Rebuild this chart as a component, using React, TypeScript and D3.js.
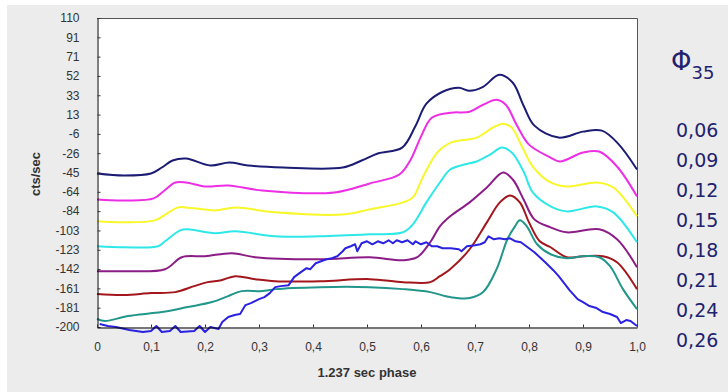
import { useEffect, useRef } from "react";
import * as d3 from "d3";

type Pt = [number, number];

// [phase, cts/sec]
const phi006: Pt[] = [
  [0, -46], [0.05, -48], [0.1, -46], [0.12, -40], [0.14, -33], [0.165, -31],
  [0.21, -38], [0.245, -35], [0.28, -38], [0.345, -40], [0.455, -40], [0.49, -33],
  [0.52, -26], [0.565, -20], [0.59, 2], [0.61, 24], [0.64, 36], [0.67, 40],
  [0.69, 37], [0.715, 41], [0.745, 53], [0.77, 45], [0.79, 22], [0.81, 2],
  [0.855, -10], [0.9, -4], [0.935, -3], [0.965, -16], [1.0, -42],
];
const phi009: Pt[] = [
  [0, -72], [0.05, -73], [0.105, -71], [0.125, -63], [0.145, -55], [0.165, -55],
  [0.2, -59], [0.243, -58], [0.306, -63], [0.44, -65], [0.505, -56], [0.56, -47],
  [0.58, -33], [0.6, -9], [0.62, 10], [0.655, 15], [0.69, 16], [0.715, 23],
  [0.74, 28], [0.757, 23], [0.777, 3], [0.8, -17], [0.84, -30], [0.857, -34],
  [0.9, -25], [0.93, -24], [0.963, -39], [1.0, -69],
];
const phi012: Pt[] = [
  [0, -94], [0.05, -95], [0.107, -93], [0.13, -86], [0.15, -80], [0.165, -80],
  [0.218, -83], [0.256, -80], [0.33, -85], [0.46, -87], [0.505, -82], [0.567, -75],
  [0.585, -70], [0.604, -49], [0.63, -25], [0.655, -15], [0.703, -10], [0.733, 0],
  [0.752, 4], [0.768, 0], [0.787, -19], [0.807, -39], [0.84, -55], [0.87, -59],
  [0.926, -55], [0.956, -60], [1.0, -89],
];
const phi015: Pt[] = [
  [0, -119], [0.05, -120], [0.113, -119], [0.126, -114], [0.154, -103], [0.168, -102],
  [0.218, -106], [0.256, -104], [0.33, -109], [0.413, -109], [0.505, -107], [0.567, -105],
  [0.585, -97], [0.61, -75], [0.635, -55], [0.654, -42], [0.68, -37], [0.703, -34],
  [0.728, -27], [0.75, -20], [0.768, -25], [0.79, -44], [0.807, -65], [0.84, -79],
  [0.87, -84], [0.926, -79], [0.956, -85], [1.0, -115],
];
const phi018: Pt[] = [
  [0, -144], [0.05, -144], [0.126, -142], [0.157, -130], [0.2, -129], [0.25, -126],
  [0.293, -130], [0.413, -132], [0.505, -130], [0.567, -133], [0.593, -130], [0.617, -115],
  [0.635, -99], [0.654, -89], [0.69, -75], [0.722, -60], [0.752, -45], [0.77, -52],
  [0.79, -72], [0.81, -92], [0.84, -100], [0.87, -105], [0.93, -102], [0.963, -112],
  [1.0, -140],
];
const phi021: Pt[] = [
  [0, -167], [0.05, -168], [0.1, -166], [0.145, -165], [0.18, -159], [0.205, -155],
  [0.23, -153], [0.256, -149], [0.293, -152], [0.33, -154], [0.413, -154], [0.505, -152],
  [0.567, -155], [0.617, -155], [0.635, -149], [0.654, -142], [0.69, -122], [0.722, -95],
  [0.746, -75], [0.765, -68], [0.783, -75], [0.8, -95], [0.82, -114], [0.84, -120],
  [0.87, -130], [0.9, -129], [0.937, -129], [0.963, -135], [1.0, -162],
];
const phi024: Pt[] = [
  [0, -192], [0.015, -194], [0.057, -189], [0.12, -185], [0.168, -180], [0.213, -175],
  [0.243, -169], [0.268, -164], [0.306, -164], [0.33, -162], [0.413, -160], [0.505, -160],
  [0.567, -162], [0.617, -165], [0.654, -170], [0.69, -171], [0.715, -165], [0.74, -142],
  [0.76, -112], [0.774, -99], [0.783, -93], [0.796, -99], [0.815, -117], [0.84, -127],
  [0.87, -131], [0.9, -129], [0.93, -130], [0.95, -139], [0.974, -162], [1.0, -182],
];
const phi026: Pt[] = [
  [0.005, -197], [0.02, -199], [0.035, -200], [0.06, -203], [0.085, -205], [0.1, -204],
  [0.11, -199], [0.12, -205], [0.135, -204], [0.145, -199], [0.155, -205], [0.18, -204],
  [0.19, -199], [0.2, -205], [0.21, -200], [0.225, -202], [0.232, -195], [0.243, -190],
  [0.255, -188], [0.265, -187], [0.275, -178], [0.285, -176], [0.3, -172], [0.31, -170],
  [0.32, -166], [0.33, -160], [0.34, -159], [0.355, -158], [0.365, -150], [0.375, -146],
  [0.388, -141], [0.395, -142], [0.405, -136], [0.415, -134], [0.425, -132], [0.435, -131],
  [0.445, -129], [0.455, -124], [0.46, -121], [0.47, -119], [0.478, -117], [0.482, -124],
  [0.49, -116], [0.5, -114], [0.51, -117], [0.52, -114], [0.53, -116], [0.54, -113],
  [0.548, -116], [0.555, -113], [0.565, -115], [0.575, -113], [0.585, -117], [0.59, -114],
  [0.6, -117], [0.61, -115], [0.62, -119], [0.63, -119], [0.64, -121], [0.655, -121],
  [0.67, -122], [0.675, -124], [0.685, -119], [0.7, -118], [0.71, -117], [0.718, -115],
  [0.725, -109], [0.735, -112], [0.745, -111], [0.755, -112], [0.765, -111], [0.775, -114],
  [0.785, -115], [0.795, -119], [0.81, -125], [0.82, -130], [0.83, -135], [0.845, -143],
  [0.855, -149], [0.865, -156], [0.875, -163], [0.89, -172], [0.9, -175], [0.912, -179],
  [0.925, -181], [0.937, -185], [0.95, -187], [0.963, -190], [0.97, -196], [0.98, -193],
  [0.988, -194], [1.0, -199],
];

const series = [phi006, phi009, phi012, phi015, phi018, phi021, phi024, phi026];
const colors = ["#1c1c74", "#ee2ee6", "#f7f72a", "#2ee8e8", "#8c1c86", "#a3161c", "#22968a", "#2a22e0"];
const legendLabels = ["0,06", "0,09", "0,12", "0,15", "0,18", "0,21", "0,24", "0,26"];

const yTickLabels = ["110", "91", "71", "52", "33", "13", "-6", "-26", "-45", "-64", "-84", "-103", "-123", "-142", "-161", "-181", "-200"];
const xTicks = [0, 0.1, 0.2, 0.3, 0.4, 0.5, 0.6, 0.7, 0.8, 0.9, 1.0];

const W = 728;
const H = 392;
const left = 97;
const right = 637;
const top = 18;
const bottom = 327;

export default function App() {
  const svgRef = useRef<SVGSVGElement>(null);

  useEffect(() => {
    const svg = d3.select(svgRef.current);
    svg.selectAll("*").remove();

    svg.append("rect").attr("x", 7).attr("y", 5).attr("width", W - 7).attr("height", H - 5).attr("fill", "#ececec");

    const x = d3.scaleLinear().domain([0, 1]).range([left, right]);
    const y = d3.scaleLinear().domain([-200, 110]).range([bottom, top]);

    svg.append("rect").attr("x", left).attr("y", top).attr("width", right - left).attr("height", bottom - top).attr("fill", "#fff");
    // top and right frame
    svg.append("path").attr("d", `M${left},${top + 0.5}H${right + 0.5}V${bottom}`).attr("fill", "none").attr("stroke", "#555").attr("stroke-width", 1);

    const line = d3
      .line<Pt>()
      .x((d) => x(d[0]))
      .y((d) => y(d[1]));

    series.forEach((s, i) => {
      svg
        .append("path")
        .datum(s)
        .attr("fill", "none")
        .attr("stroke", colors[i])
        .attr("stroke-width", 2)
        .attr("stroke-linejoin", "round")
        .attr("d", line.curve(i === 7 ? d3.curveLinear : d3.curveCatmullRom.alpha(0.5))(s));
    });

    const yTickVals = yTickLabels.map((_, i) => 110 - (i * 310) / 16);
    const yAxis = d3
      .axisLeft(y)
      .tickValues(yTickVals)
      .tickFormat((_, i) => yTickLabels[i])
      .tickSizeInner(-3)
      .tickSizeOuter(0)
      .tickPadding(18);
    const gy = svg.append("g").attr("transform", `translate(${left + 0.5},0)`).call(yAxis);
    const xAxis = d3
      .axisBottom(x)
      .tickValues(xTicks)
      .tickFormat((d) => d3.format(".1f")(d as number).replace(".", ",").replace(/^0,0$/, "0"))
      .tickSizeInner(-3)
      .tickSizeOuter(0)
      .tickPadding(15);
    const gx = svg.append("g").attr("transform", `translate(0,${bottom + 0.5})`).call(xAxis);

    [gx, gy].forEach((g) => {
      g.select(".domain").attr("stroke", "#000");
      g.selectAll(".tick line").attr("stroke", "#333");
      g.selectAll("text").attr("font-family", "'Liberation Sans', Arial, sans-serif").attr("font-size", 12).attr("fill", "#333");
    });

    svg
      .append("text")
      .attr("x", (left + right) / 2)
      .attr("y", 377)
      .attr("text-anchor", "middle")
      .attr("font-family", "'Liberation Sans', Arial, sans-serif")
      .attr("font-weight", "bold")
      .attr("font-size", 13)
      .attr("fill", "#333")
      .text("1.237 sec phase");

    svg
      .append("text")
      .attr("transform", "rotate(-90)")
      .attr("x", -174)
      .attr("y", 40)
      .attr("text-anchor", "middle")
      .attr("font-family", "'Liberation Sans', Arial, sans-serif")
      .attr("font-weight", "bold")
      .attr("font-size", 13)
      .attr("fill", "#333")
      .text("cts/sec");

    const legend = svg.append("g").attr("font-family", "'DejaVu Sans', Verdana, sans-serif").attr("fill", "#22226e");
    const phi = legend.append("text").attr("x", 671).attr("y", 70);
    phi.append("tspan").attr("font-size", 26).text("Φ");
    phi.append("tspan").attr("font-size", 18).attr("dy", 9).text("35");

    legend
      .selectAll("text.val")
      .data(legendLabels)
      .join("text")
      .attr("class", "val")
      .attr("x", 676)
      .attr("y", (_, i) => 137 + i * 30)
      .attr("font-size", 19)
      .text((d) => d);
  }, []);

  return <svg ref={svgRef} width={W} height={H} style={{ position: "absolute", left: 0, top: 0 }} />;
}
